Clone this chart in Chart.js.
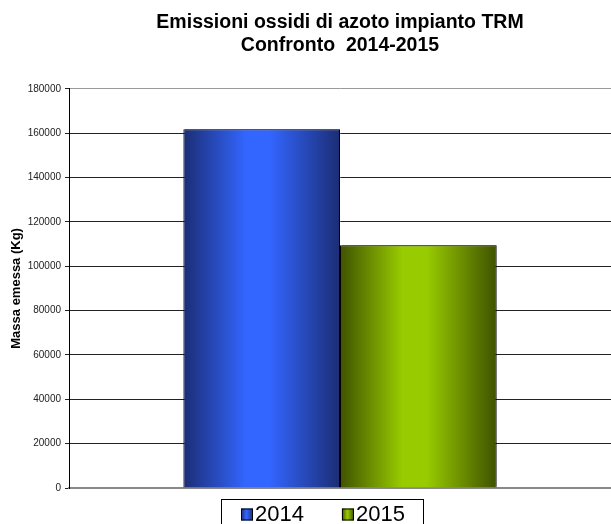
<!DOCTYPE html>
<html>
<head>
<meta charset="utf-8">
<script src="https://cdn.jsdelivr.net/npm/chart.js"></script>
<style>
  html, body { margin: 0; padding: 0; background: #fff; }
</style>
</head>
<body>
<canvas id="chart" width="611" height="524"></canvas>
<script>
// Data
const categories = ["Ossidi di azoto"];
const seriesLabels = ["2014", "2015"];
const values2014 = [161800];
const values2015 = [109500];
const yMin = 0;
const yMax = 180000;
const yStep = 20000;

const FONT = "'Liberation Sans', Arial, sans-serif";

// Colours for the shaded bars: edge, centre
const shades = [
    { edge: "#1b2d74", mid: "#3366ff" },
    { edge: "#3f5200", mid: "#99cc00" }
];

// Horizontal gradient across each bar (dark edges, light centre)
function barFill(context) {
    const shade = shades[context.datasetIndex];
    const el = context.element;
    if (!el || el.x == null || isNaN(el.x) || !el.width) {
        return shade.mid;
    }
    const c = context.chart.ctx;
    const g = c.createLinearGradient(el.x - el.width / 2, 0, el.x + el.width / 2, 0);
    g.addColorStop(0, shade.edge);
    g.addColorStop(0.4, shade.mid);
    g.addColorStop(0.55, shade.mid);
    g.addColorStop(1, shade.edge);
    return g;
}

// Soft grey shadow behind the bars
const barShadow = {
    id: "barShadow",
    beforeDatasetsDraw(chart) {
        const c = chart.ctx;
        c.save();
        c.shadowColor = "rgba(0,0,0,0.3)";
        c.shadowOffsetX = 2;
        c.shadowOffsetY = -2;
        c.shadowBlur = 1;
    },
    afterDatasetsDraw(chart) {
        chart.ctx.restore();
    }
};

// Legend with a frame round it, drawn below the plot
const boxedLegend = {
    id: "boxedLegend",
    afterDraw(chart) {
        const c = chart.ctx;
        const sets = chart.data.datasets;
        c.save();
        c.font = "22px " + FONT;
        const marker = 12, gap = 2, spacing = 38, pad = 19;
        let total = 0;
        sets.forEach((ds, i) => {
            total += marker + gap + c.measureText(ds.label).width;
            if (i < sets.length - 1) total += spacing;
        });
        const centerX = 322;
        const top = 499.5;
        const left = Math.round(centerX - total / 2 - pad) + 0.5;
        c.strokeStyle = "#000";
        c.lineWidth = 1;
        c.strokeRect(left, top, Math.round(total + pad * 2), 40);
        let x = Math.round(left + pad);
        const midY = 514.5;
        sets.forEach((ds, i) => {
            const g = c.createLinearGradient(x, 0, x + marker, 0);
            g.addColorStop(0, shades[i].edge);
            g.addColorStop(0.45, shades[i].mid);
            g.addColorStop(1, shades[i].edge);
            c.fillStyle = g;
            c.fillRect(x, midY - marker / 2, marker, marker);
            c.strokeRect(x + 0.5, midY - marker / 2 + 0.5, marker - 1, marker - 1);
            x += marker + gap;
            c.fillStyle = "#000";
            c.textBaseline = "alphabetic";
            c.fillText(ds.label, x, 521);
            x += c.measureText(ds.label).width + spacing;
        });
        c.restore();
    }
};

const ctx = document.getElementById("chart").getContext("2d");

const chart = new Chart(ctx, {
    type: "bar",
    data: {
        labels: categories,
        datasets: [
            {
                label: seriesLabels[0],
                data: values2014,
                backgroundColor: barFill,
                borderColor: "#000",
                borderWidth: 1
            },
            {
                label: seriesLabels[1],
                data: values2015,
                backgroundColor: barFill,
                borderColor: "#000",
                borderWidth: 1
            }
        ]
    },
    options: {
        responsive: false,
        animation: false,
        layout: { padding: { top: 0, right: -7, bottom: 36, left: 0 } },
        datasets: {
            bar: { categoryPercentage: 0.578, barPercentage: 1 }
        },
        scales: {
            x: {
                ticks: { display: false },
                grid: { display: false },
                border: { color: "#888", width: 2 },
                afterFit: (scale) => { scale.height = 0; }
            },
            y: {
                min: yMin,
                max: yMax,
                ticks: {
                    stepSize: yStep,
                    color: "#222",
                    padding: 4,
                    font: { family: FONT, size: 10 },
                    callback: (v) => String(v)
                },
                grid: {
                    color: (c) => c.tick && c.tick.value === yMax ? "#999" : "#222",
                    tickColor: "#222",
                    tickLength: 4
                },
                border: { color: "#000", width: 1 },
                title: {
                    display: true,
                    text: "Massa emessa (Kg)",
                    color: "#000",
                    font: { family: FONT, size: 13, weight: "bold" },
                    padding: { top: 9, bottom: 0 }
                },
                afterFit: (scale) => { scale.width = 69; }
            }
        },
        plugins: {
            legend: { display: false },
            tooltip: { enabled: false },
            title: {
                display: true,
                fullSize: false,
                text: ["Emissioni ossidi di azoto impianto TRM", "Confronto  2014-2015"],
                color: "#000",
                font: { family: FONT, size: 19.5, weight: "bold", lineHeight: 1.2 },
                padding: { top: 11, bottom: 31 }
            }
        }
    },
    plugins: [barShadow, boxedLegend]
});

// second pass so the gradients know where each bar sits
chart.update();
</script>
</body>
</html>
